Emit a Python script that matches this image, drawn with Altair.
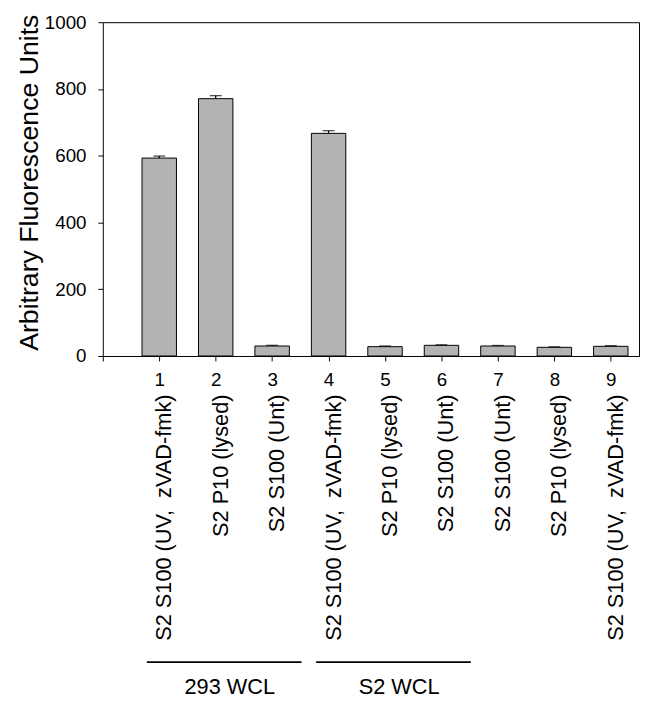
import altair as alt
import pandas as pd

# ---- data ----
lanes = [1, 2, 3, 4, 5, 6, 7, 8, 9]
conditions = [
    "S2 S100 (UV,\u00a0 zVAD-fmk)", "S2 P10 (lysed)", "S2 S100 (Unt)",
    "S2 S100 (UV,\u00a0 zVAD-fmk)", "S2 P10 (lysed)", "S2 S100 (Unt)",
    "S2 S100 (Unt)", "S2 P10 (lysed)", "S2 S100 (UV,\u00a0 zVAD-fmk)",
]
means = [593, 771, 30, 667, 28, 32, 30, 26, 29]
errors = [6, 9, 2, 8, 2, 1.5, 1.5, 1.5, 2]

group_names = ["293 WCL", "S2 WCL"]
group_first = [1, 4]
group_last = [3, 6]

y_ticks = [0, 200, 400, 600, 800, 1000]

FONT = "Liberation Sans"

bars_df = pd.DataFrame({"lane": lanes, "condition": conditions,
                        "mean": means, "err": errors})
groups_df = pd.DataFrame({"name": group_names, "first": group_first,
                          "last": group_last})

xscale = alt.Scale(domain=[0, 9.5], nice=False, zero=False)
yscale = alt.Scale(domain=[0, 1000], nice=False)

TOP = 10  # view top offset inside the svg
H = 338

base = alt.Chart(bars_df)

bars = base.transform_calculate(
    lo="datum.lane - 0.305", hi="datum.lane + 0.305"
).mark_bar(fill="#b3b3b3", stroke="black", strokeWidth=1).encode(
    x=alt.X("lo:Q", scale=xscale,
            axis=alt.Axis(values=[0] + lanes, title=None, format="d",
                          labelExpr="datum.value == 0 ? '' : datum.label",
                          labelFontSize=19, labelPadding=10, tickSize=5,
                          labelAngle=0)),
    x2="hi:Q",
    y=alt.Y("mean:Q", scale=yscale,
            axis=alt.Axis(values=y_ticks, title="Arbitrary Fluorescence Units",
                          format="d",
                          titleFontSize=27, titleFontWeight="normal",
                          titlePadding=1, titleY=H / 2 - 7,
                          labelFontSize=19, labelPadding=12,
                          tickSize=5)),
    y2=alt.datum(0),
)

err_rule = base.transform_calculate(top="datum.mean + datum.err").mark_rule(
    color="black", strokeWidth=1.3
).encode(
    x=alt.X("lane:Q", scale=xscale),
    y=alt.Y("mean:Q", scale=yscale),
    y2="top:Q",
)

err_cap = base.transform_calculate(top="datum.mean + datum.err").mark_tick(
    color="black", orient="horizontal", size=12, thickness=1.3
).encode(
    x=alt.X("lane:Q", scale=xscale),
    y=alt.Y("top:Q", scale=yscale),
)

cond_text = base.transform_calculate(xl="datum.lane + 0.09").mark_text(
    angle=270, align="right", baseline="middle", fontSize=22, font=FONT,
    color="black"
).encode(
    x=alt.X("xl:Q", scale=xscale),
    y=alt.value(395 - 8 - TOP),
    text="condition:N",
)

gbase = alt.Chart(groups_df).transform_calculate(
    start="datum.first - 0.22", end="datum.last + 0.52",
    mid="(datum.first + datum.last) / 2 + 0.25",
)

group_lines = gbase.mark_rule(color="black", strokeWidth=1.6).encode(
    x=alt.X("start:Q", scale=xscale),
    x2="end:Q",
    y=alt.value(666 - 8 - TOP),
)

group_text = gbase.mark_text(
    fontSize=22, font=FONT, color="black", baseline="middle", align="center"
).encode(
    x=alt.X("mid:Q", scale=xscale),
    y=alt.value(691 - 8 - TOP),
    text="name:N",
)

chart = alt.layer(
    bars, err_rule, err_cap, cond_text, group_lines, group_text
).properties(
    width=543, height=H,
    background="white",
    autosize=alt.AutoSizeParams(type="none"),
    padding={"left": 96, "top": TOP, "right": 2, "bottom": 348},
).configure_view(
    stroke="black", strokeWidth=1
).configure_axis(
    grid=False, domain=False, labelFont=FONT, titleFont=FONT,
    labelColor="black", titleColor="black", tickColor="black",
    tickWidth=1
)

chart.save("out.html", embed_options={"renderer": "svg", "actions": False})
